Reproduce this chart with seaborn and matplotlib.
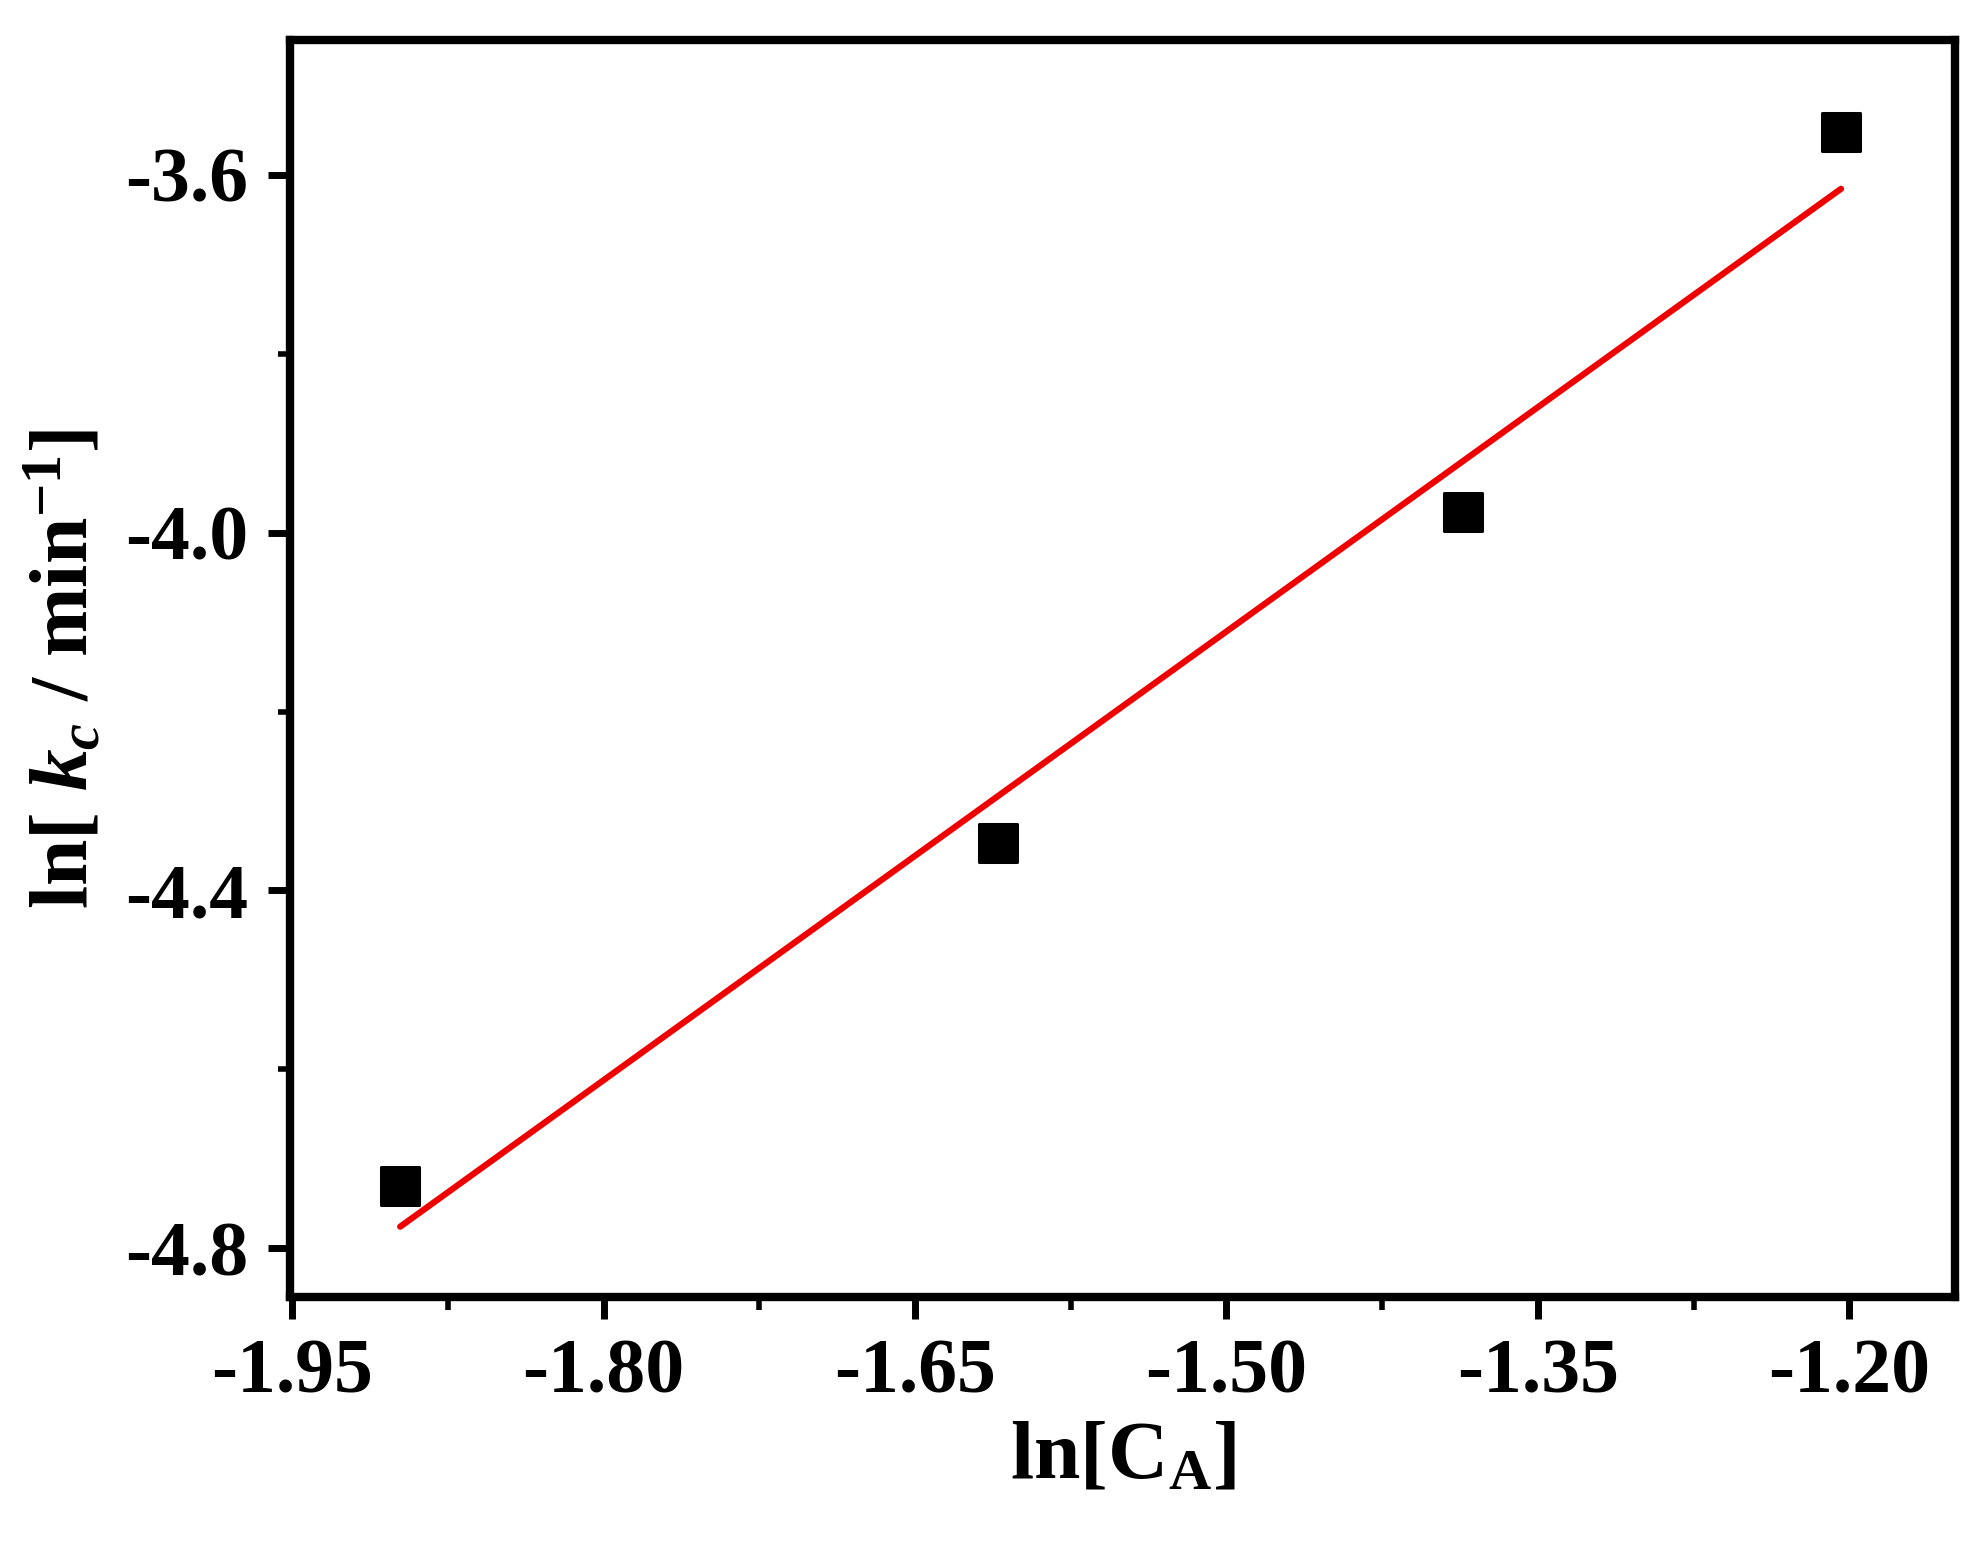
import numpy as np
import pandas as pd
import matplotlib
matplotlib.use('Agg')
import matplotlib.pyplot as plt
import seaborn as sns
from matplotlib.ticker import MultipleLocator

# data
ln_ca = [-1.898, -1.610, -1.386, -1.204]
ln_kc = [-4.730, -4.347, -3.977, -3.552]
df = pd.DataFrame({'x': ln_ca, 'y': ln_kc})

# linear fit, drawn between the first and last point
slope, icpt = np.polyfit(ln_ca, ln_kc, 1)
fit = pd.DataFrame({'x': [ln_ca[0], ln_ca[-1]]})
fit['y'] = slope * fit['x'] + icpt

sns.set_style('ticks', {'axes.edgecolor': 'black', 'xtick.color': 'black',
                        'ytick.color': 'black', 'text.color': 'black',
                        'axes.labelcolor': 'black'})
plt.rcParams['font.family'] = ['Liberation Serif', 'DejaVu Serif']
plt.rcParams['font.weight'] = 'bold'
plt.rcParams['mathtext.fontset'] = 'custom'
plt.rcParams['mathtext.rm'] = 'Liberation Serif:bold'
plt.rcParams['mathtext.it'] = 'Liberation Serif:italic:bold'
plt.rcParams['mathtext.bf'] = 'Liberation Serif:bold'

fig = plt.figure(figsize=(19.87, 15.53), dpi=100)
ax = fig.add_axes([0.146, 0.165, 0.838, 0.809])

sns.lineplot(data=fit, x='x', y='y', color='#ee0000', lw=4.5, ax=ax)
sns.scatterplot(data=df, x='x', y='y', marker='s', s=750, color='black',
                edgecolor='black', ax=ax, zorder=3)

ax.set_xlim(-1.951, -1.149)
ax.set_ylim(-4.854, -3.45)
ax.xaxis.set_major_locator(MultipleLocator(0.15))
ax.xaxis.set_minor_locator(MultipleLocator(0.075))
ax.yaxis.set_major_locator(MultipleLocator(0.4))
ax.yaxis.set_minor_locator(MultipleLocator(0.2))
ax.xaxis.set_major_formatter(lambda v, p: f'{v:.2f}')
ax.yaxis.set_major_formatter(lambda v, p: f'{v:.1f}')

for s in ax.spines.values():
    s.set_linewidth(6)
    s.set_color('black')
ax.tick_params(which='major', length=16, width=5, labelsize=56, pad=14,
               colors='black')
ax.tick_params(which='minor', length=9, width=4, colors='black')
for lab in ax.get_xticklabels() + ax.get_yticklabels():
    lab.set_fontweight('bold')

ax.set_xlabel(r'ln[C$_\mathrm{A}$]', fontsize=60, fontweight='bold',
              labelpad=8, color='black')
ax.set_ylabel(r'ln[ $k_c$ / min$^{-1}$]', fontsize=60, fontweight='bold',
              labelpad=14, color='black')

fig.savefig('out.png', dpi=100)
